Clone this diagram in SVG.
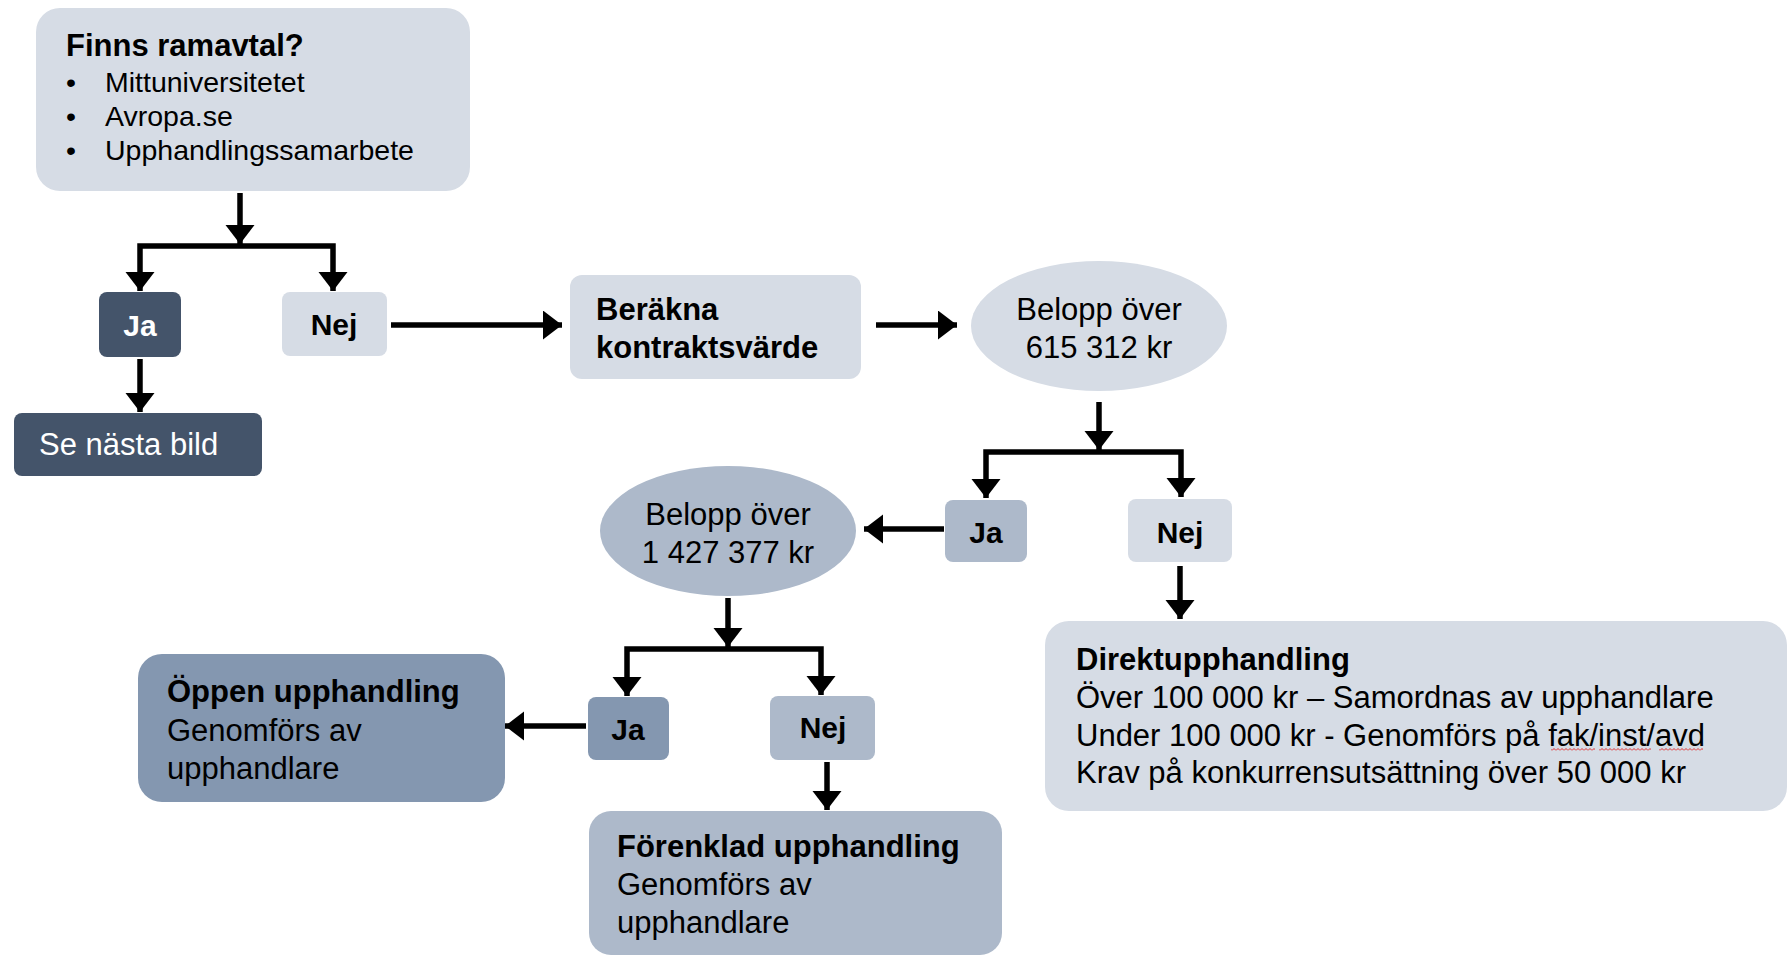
<svg xmlns="http://www.w3.org/2000/svg" width="1789" height="956" viewBox="0 0 1789 956">
<style>
text{font-family:"Liberation Sans",Arial,sans-serif;font-size:31px;fill:#000}
.b{font-weight:bold}
.w{fill:#fff}
.c{text-anchor:middle}
.bl{font-size:28.5px}
.yn{font-weight:bold;font-size:30px;text-anchor:middle}
.l1{fill:#d6dce5}
.d{fill:#44546a}
.m{fill:#adb9ca}
.md{fill:#8497b0}
.con path{fill:none;stroke:#000;stroke-width:5.5;stroke-linejoin:miter}
</style>
<defs>
<marker id="ah" markerUnits="userSpaceOnUse" markerWidth="20" markerHeight="30" refX="19" refY="14.5" orient="auto" viewBox="0 0 20 30">
<path d="M0,0 L19,14.5 L0,29 z" fill="#000"/>
</marker>
<pattern id="wavy" patternUnits="userSpaceOnUse" x="0" y="747" width="4" height="5">
<path d="M0,3.5 L2,1.5 L4,3.5" fill="none" stroke="#e03030" stroke-width="1"/>
</pattern>
</defs>
<rect width="1789" height="956" fill="#fff"/>

<g id="n-ramavtal">
<rect class="l1" x="36" y="8" width="434" height="183" rx="24"/>
<text class="b" x="66" y="56">Finns ramavtal?</text>
<text class="bl" x="66" y="92">•</text>
<text class="bl" x="105" y="92">Mittuniversitetet</text>
<text class="bl" x="66" y="126">•</text>
<text class="bl" x="105" y="126">Avropa.se</text>
<text class="bl" x="66" y="160">•</text>
<text class="bl" x="105" y="160">Upphandlingssamarbete</text>
</g>

<g id="n-ja1">
<rect class="d" x="99" y="292" width="82" height="65" rx="8"/>
<text class="yn w" x="140" y="336">Ja</text>
</g>
<g id="n-nej1">
<rect class="l1" x="282" y="292" width="105" height="64" rx="8"/>
<text class="yn" x="334" y="335">Nej</text>
</g>
<g id="n-se">
<rect class="d" x="14" y="413" width="248" height="63" rx="8"/>
<text class="w" x="39" y="455">Se nästa bild</text>
</g>
<g id="n-berakna">
<rect class="l1" x="570" y="275" width="291" height="104" rx="12"/>
<text class="b" x="596" y="320">Beräkna</text>
<text class="b" x="596" y="358">kontraktsvärde</text>
</g>
<g id="n-belopp1">
<ellipse class="l1" cx="1099" cy="326" rx="128" ry="65"/>
<text class="c" x="1099" y="320">Belopp över</text>
<text class="c" x="1099" y="358">615 312 kr</text>
</g>
<g id="n-ja2">
<rect class="m" x="945" y="500" width="82" height="62" rx="8"/>
<text class="yn" x="986" y="543">Ja</text>
</g>
<g id="n-nej2">
<rect class="l1" x="1128" y="499" width="104" height="63" rx="8"/>
<text class="yn" x="1180" y="543">Nej</text>
</g>
<g id="n-belopp2">
<ellipse class="m" cx="728" cy="531" rx="128" ry="65"/>
<text class="c" x="728" y="525">Belopp över</text>
<text class="c" x="728" y="563">1 427 377 kr</text>
</g>
<g id="n-direkt">
<rect class="l1" x="1045" y="621" width="742" height="190" rx="24"/>
<text class="b" x="1076" y="670">Direktupphandling</text>
<text x="1076" y="708">Över 100 000 kr – Samordnas av upphandlare</text>
<text x="1076" y="746">Under 100 000 kr - Genomförs på fak/inst/avd</text>
<text x="1076" y="783">Krav på konkurrensutsättning över 50 000 kr</text>
<rect x="1551" y="747" width="44" height="5" fill="url(#wavy)"/>
<rect x="1599" y="747" width="52" height="5" fill="url(#wavy)"/>
<rect x="1659" y="747" width="44" height="5" fill="url(#wavy)"/>
</g>
<g id="n-ja3">
<rect class="md" x="588" y="697" width="81" height="63" rx="8"/>
<text class="yn" x="628" y="740">Ja</text>
</g>
<g id="n-nej3">
<rect class="m" x="770" y="696" width="105" height="64" rx="8"/>
<text class="yn" x="823" y="738">Nej</text>
</g>
<g id="n-oppen">
<rect class="md" x="138" y="654" width="367" height="148" rx="24"/>
<text class="b" x="167" y="702">Öppen upphandling</text>
<text x="167" y="741">Genomförs av</text>
<text x="167" y="779">upphandlare</text>
</g>
<g id="n-forenklad">
<rect class="m" x="589" y="811" width="413" height="144" rx="22"/>
<text class="b" x="617" y="857">Förenklad upphandling</text>
<text x="617" y="895">Genomförs av</text>
<text x="617" y="933">upphandlare</text>
</g>

<g id="connectors" class="con">
<path d="M240,193 V244" marker-end="url(#ah)"/>
<path d="M240,246 H140 V291" marker-end="url(#ah)"/>
<path d="M240,246 H333 V291" marker-end="url(#ah)"/>
<path d="M140,359 V412" marker-end="url(#ah)"/>
<path d="M391,325 H562" marker-end="url(#ah)"/>
<path d="M876,325 H957" marker-end="url(#ah)"/>
<path d="M1099,402 V450" marker-end="url(#ah)"/>
<path d="M1099,452 H986 V498" marker-end="url(#ah)"/>
<path d="M1099,452 H1181 V497" marker-end="url(#ah)"/>
<path d="M944,529 H864" marker-end="url(#ah)"/>
<path d="M1180,566 V619" marker-end="url(#ah)"/>
<path d="M728,598 V647" marker-end="url(#ah)"/>
<path d="M728,649 H627 V696" marker-end="url(#ah)"/>
<path d="M728,649 H821 V695" marker-end="url(#ah)"/>
<path d="M586,726 H505" marker-end="url(#ah)"/>
<path d="M827,762 V810" marker-end="url(#ah)"/>
</g>
</svg>
